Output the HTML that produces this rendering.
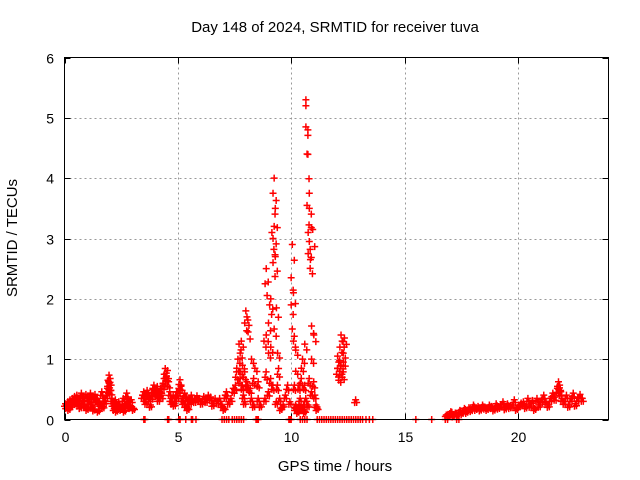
<!DOCTYPE html>
<html><head><meta charset="utf-8"><style>
body{margin:0;background:#fff;}
svg{display:block;font-family:"Liberation Sans",sans-serif;}
</style></head><body>
<svg id="chart" width="640" height="480">
<text x="335" y="32" font-size="15" text-anchor="middle">Day 148 of 2024, SRMTID for receiver tuva</text>
<text x="335" y="471" font-size="15" text-anchor="middle">GPS time / hours</text>
<text x="17" y="238" font-size="15" text-anchor="middle" transform="rotate(-90 17 238)">SRMTID / TECUs</text>
<g id="grid"></g><g id="ticks"></g><g id="marks"></g>
<rect x="64.5" y="57.5" width="544" height="362" fill="none" stroke="#000" stroke-width="1"/>
</svg>
<script>
const xTicks=[0,5,10,15,20];
const yTicks=[0,1,2,3,4,5,6];
const hours=[0.0,0.05,0.1,0.15,0.2,0.25,0.3,0.35,0.4,0.45,0.5,0.55,0.6,0.65,0.7,0.75,0.8,0.85,0.9,0.95,1.0,1.05,1.1,1.15,1.2,1.25,1.3,1.35,1.4,1.45,1.5,1.55,1.6,1.65,1.7,1.75,1.8,1.85,1.9,1.92,1.95,1.97,2.0,2.05,2.1,2.15,2.2,2.25,2.3,2.35,2.4,2.45,2.5,2.55,2.6,2.65,2.7,2.75,2.8,2.85,2.9,3.0,
3.4,3.45,3.5,3.55,3.6,3.65,3.7,3.75,3.8,3.85,3.9,3.95,4.0,4.05,4.1,4.15,4.2,4.25,4.3,4.35,4.4,4.45,4.5,4.55,4.6,4.65,4.7,4.75,4.8,4.85,4.9,4.95,5.0,5.05,5.1,5.15,5.2,5.25,5.3,5.35,5.4,5.45,5.5,5.55,5.6,5.7,5.8,5.9,6.0,6.1,6.2,6.3,6.4,6.5,6.6,6.7,
6.8,6.9,7.0,7.05,7.1,7.2,7.3,7.4,7.5,7.55,7.6,7.65,7.7,7.7,7.75,7.75,7.8,7.8,7.85,7.85,7.9,7.9,7.95,8.0,8.0,8.05,8.05,8.1,8.15,8.2,8.25,8.3,8.3,8.4,8.5,8.5,8.6,
8.8,8.8,8.85,8.85,8.9,8.9,8.95,9.0,9.0,9.05,9.05,9.1,9.1,9.15,9.15,9.2,9.2,9.2,9.25,9.25,9.25,9.3,9.3,9.3,9.35,9.35,9.4,9.4,9.45,9.5,9.6,9.7,9.8,9.9,
10.0,10.0,10.05,10.05,10.1,10.1,10.1,10.15,10.15,10.2,10.2,10.25,10.3,10.3,10.35,10.4,10.4,10.45,10.5,10.5,10.55,10.55,10.6,10.6,10.65,10.65,10.65,10.7,10.7,10.7,10.75,10.75,10.75,10.8,10.8,10.8,10.85,10.85,10.9,10.9,10.95,10.95,11.0,11.0,11.05,11.1,
12.0,12.05,12.05,12.1,12.1,12.15,12.15,12.2,12.2,12.25,12.25,12.3,12.3,12.35,12.8,
16.8,16.9,17.0,17.1,17.2,17.3,17.4,17.5,17.6,17.7,17.8,17.9,18.0,18.1,18.2,18.3,18.4,18.5,18.6,18.7,18.8,18.9,19.0,19.1,19.2,19.3,19.4,19.5,19.6,19.7,19.8,19.9,20.0,20.1,20.2,20.3,20.4,20.5,20.6,20.7,20.8,20.9,21.0,21.1,21.2,21.3,21.4,21.5,21.6,21.7,21.75,21.8,21.85,21.9,22.0,22.1,22.2,22.3,22.4,22.5,22.6,22.7,22.8];
const tec=[0.22,0.18,0.25,0.15,0.28,0.2,0.3,0.24,0.33,0.27,0.35,0.22,0.3,0.18,0.38,0.25,0.32,0.2,0.36,0.15,0.3,0.25,0.38,0.2,0.33,0.14,0.36,0.28,0.3,0.12,0.25,0.22,0.4,0.18,0.3,0.26,0.35,0.45,0.55,0.65,0.5,0.6,0.42,0.3,0.22,0.15,0.28,0.12,0.2,0.25,0.18,0.15,0.2,0.3,0.12,0.22,0.38,0.3,0.2,0.18,0.28,0.15,
0.35,0.4,0.3,0.25,0.42,0.38,0.3,0.2,0.34,0.45,0.5,0.42,0.38,0.48,0.3,0.4,0.45,0.35,0.52,0.6,0.75,0.68,0.72,0.55,0.4,0.3,0.25,0.35,0.22,0.3,0.4,0.35,0.45,0.58,0.5,0.3,0.25,0.38,0.2,0.32,0.15,0.3,0.25,0.35,0.3,0.28,0.34,0.3,0.25,0.33,0.28,0.35,0.32,0.22,0.3,0.26,
0.3,0.2,0.15,0.35,0.4,0.25,0.3,0.45,0.5,0.7,0.85,1.0,1.25,0.6,1.1,0.8,1.3,0.5,0.9,0.35,0.7,0.25,1.6,1.8,0.55,1.7,0.5,1.45,0.45,0.3,1.0,0.2,0.6,0.85,0.55,0.3,0.2,
0.3,1.3,0.7,2.25,1.4,2.5,0.4,1.1,1.6,1.9,0.6,2.0,1.2,3.1,0.5,2.6,3.0,3.75,4.0,3.2,1.5,3.5,2.7,0.25,1.85,0.5,1.1,0.75,0.3,0.15,0.2,0.35,0.5,0.25,
2.35,1.9,1.5,2.9,1.3,2.1,0.5,0.2,0.15,0.8,1.15,0.1,0.2,0.5,0.3,0.6,0.15,0.85,0.2,1.0,0.5,0.1,0.3,1.25,5.3,5.2,4.85,4.4,0.2,3.55,3.1,2.75,0.6,3.75,2.95,3.5,2.65,0.4,1.55,1.0,3.15,0.55,1.4,0.35,0.2,0.15,
0.75,1.05,0.85,0.95,0.65,1.2,0.8,1.4,0.9,1.3,0.7,1.1,0.95,1.35,0.28,
0.05,0.03,0.1,0.04,0.08,0.05,0.12,0.08,0.15,0.1,0.16,0.13,0.2,0.15,0.18,0.14,0.2,0.17,0.15,0.2,0.18,0.14,0.22,0.17,0.2,0.25,0.16,0.22,0.18,0.2,0.28,0.15,0.2,0.23,0.25,0.18,0.3,0.2,0.27,0.15,0.3,0.2,0.28,0.35,0.25,0.2,0.3,0.38,0.32,0.45,0.55,0.5,0.4,0.3,0.25,0.35,0.2,0.3,0.38,0.22,0.3,0.36,0.3];
const zeroHours=[3.5,3.55,4.55,4.6,5.05,5.1,5.35,5.6,5.65,5.8,6.95,7.05,7.15,7.25,7.4,7.5,7.6,7.7,7.8,7.9,8.45,8.5,8.55,9.9,9.95,10.0,10.4,10.5,10.6,10.7,11.15,11.25,11.35,11.45,11.55,11.65,11.75,11.85,11.95,12.05,12.15,12.25,12.35,12.45,12.55,12.65,12.75,12.85,12.95,13.05,13.15,13.3,13.45,13.6,15.5,16.2,16.8,16.9,17.3,17.4];
const X0=64.5,X1=608.5,Y0=419.5,Y1=57.5;
const xs=h=>X0+(X1-X0)*h/24;
const ys=v=>Y0-(Y0-Y1)*v/6;
const NS="http://www.w3.org/2000/svg";
function mk(tag,attrs,parent){const e=document.createElementNS(NS,tag);for(const k in attrs)e.setAttribute(k,attrs[k]);parent.appendChild(e);return e;}
const grid=document.getElementById('grid'),ticks=document.getElementById('ticks'),marks=document.getElementById('marks');
xTicks.forEach(t=>{const x=Math.round(xs(t))+0.5;
 if(t>0){const g=mk('line',{x1:x,x2:x,y1:Y1,y2:Y0,stroke:'#999','stroke-dasharray':'2,3'},grid);
 
 }
 mk('line',{x1:x,x2:x,y1:Y0,y2:Y0-6,stroke:'#000'},ticks);mk('line',{x1:x,x2:x,y1:Y1,y2:Y1+6,stroke:'#000'},ticks);
 const l=mk('text',{x:x,y:442,'font-size':14,'text-anchor':'middle'},ticks);l.textContent=t;
 
 });
yTicks.forEach(t=>{const y=Math.round(ys(t))+0.5;
 if(t>0&&t<6){const g=mk('line',{x1:X0,x2:X1,y1:y,y2:y,stroke:'#999','stroke-dasharray':'2,3'},grid);
 
 }
 mk('line',{x1:X0,x2:X0+6,y1:y,y2:y,stroke:'#000'},ticks);mk('line',{x1:X1,x2:X1-6,y1:y,y2:y,stroke:'#000'},ticks);
 const l=mk('text',{x:54,y:y+5,'font-size':14,'text-anchor':'end'},ticks);l.textContent=t;
 
 });
function plus(x,y){const p=mk('path',{d:`M${x-3.5} ${y}h7M${x} ${y-3.5}v7`,stroke:'#f00','stroke-width':1.5,fill:'none'},marks);
 
 }
hours.forEach((h,i)=>{const x=xs(h),y=ys(tec[i]);plus(x,y);plus(x+2,ys(tec[i]*0.9+0.03));
 if(tec[i]<0.8){plus(x+1,ys(tec[i]*1.1+0.02));}});
zeroHours.forEach(h=>plus(xs(h),ys(0)));
</script>
</body></html>
